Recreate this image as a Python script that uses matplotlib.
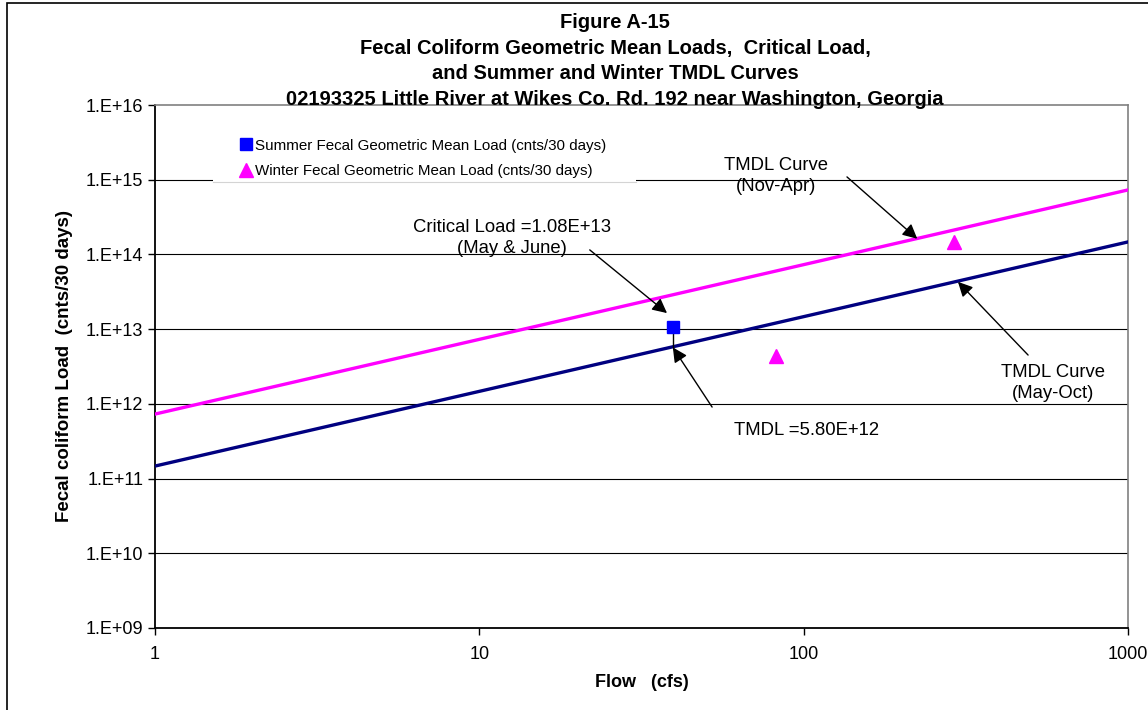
import math
import matplotlib
matplotlib.use("Agg")
import matplotlib.pyplot as plt
from matplotlib.ticker import FixedLocator, FuncFormatter, NullLocator
from matplotlib.patches import Rectangle

plt.rcParams['font.family'] = ['Liberation Sans', 'DejaVu Sans']

# TMDL curves (load vs flow), endpoints of each straight log-log line
curve_flow = [1, 1000]
summer_tmdl = [1.47e11, 1.47e14]
winter_tmdl = [7.3e11, 7.3e14]

# geometric mean loads
summer_flow = [39.5]
summer_load = [1.08e13]
winter_flow = [82, 291]
winter_load = [4.36e12, 1.47e14]

critical_flow = 39.5
critical_load = 1.08e13
tmdl_at_critical = 5.80e12

y_ticks = [1e9, 1e10, 1e11, 1e12, 1e13, 1e14, 1e15, 1e16]
x_ticks = [1, 10, 100, 1000]

W, H = 1148, 710
fig = plt.figure(figsize=(W / 100, H / 100), dpi=100)
ax = fig.add_axes([155 / W, 1 - 628 / H, (1128 - 155) / W, (628 - 105) / H])

# outer frame around the figure
fig.patches.append(Rectangle((7 / W, -0.1), 1.2, 1 - 3 / H + 0.1,
                             transform=fig.transFigure, fill=False,
                             edgecolor='black', linewidth=1.2))

ax.set_xscale('log')
ax.set_yscale('log')
ax.set_xlim(1, 1000)
ax.set_ylim(1e9, 1e16)

for y in y_ticks[1:-1]:
    ax.axhline(y, color='black', linewidth=0.8, zorder=1)

# white block behind the legend hides part of the 1E+15 gridline
ax.add_patch(Rectangle((213 / W, 1 - 182 / H), (636 - 213) / W, 52 / H,
                       transform=fig.transFigure, facecolor='white',
                       edgecolor='none', zorder=2))
ax.plot([213 / W, 636 / W], [1 - 182 / H, 1 - 182 / H], transform=fig.transFigure,
        color='#d4d4d4', linewidth=0.8, zorder=2)

ax.plot(curve_flow, winter_tmdl, color='#ff00ff', linewidth=2.4, zorder=3)
ax.plot(curve_flow, summer_tmdl, color='#000080', linewidth=2.4, zorder=3)

ax.plot([critical_flow, critical_flow], [tmdl_at_critical, critical_load],
        color='black', linewidth=1.0, zorder=4)

ax.plot(summer_flow, summer_load, linestyle='none', marker='s', markersize=9,
        color='#0000ff', label='Summer Fecal Geometric Mean Load (cnts/30 days)', zorder=5)
ax.plot(winter_flow, winter_load, linestyle='none', marker='^', markersize=10,
        color='#ff00ff', label='Winter Fecal Geometric Mean Load (cnts/30 days)', zorder=5)

ax.yaxis.set_major_locator(FixedLocator(y_ticks))
ax.yaxis.set_minor_locator(NullLocator())
ax.yaxis.set_major_formatter(FuncFormatter(lambda v, p: '1.E+%02d' % round(math.log10(v))))
ax.xaxis.set_major_locator(FixedLocator(x_ticks))
ax.xaxis.set_minor_locator(NullLocator())
ax.xaxis.set_major_formatter(FuncFormatter(lambda v, p: '%d' % v))
ax.tick_params(axis='both', labelsize=13, length=5, width=1, color='black')
ax.tick_params(axis='x', pad=8)

ax.spines['left'].set_color('black')
ax.spines['bottom'].set_color('black')
ax.spines['left'].set_linewidth(1.3)
ax.spines['bottom'].set_linewidth(1.3)
ax.spines['top'].set_color('#808080')
ax.spines['right'].set_color('#808080')
ax.spines['top'].set_linewidth(1.2)
ax.spines['right'].set_linewidth(1.2)

ax.set_xlabel('Flow   (cfs)', fontsize=13, fontweight='bold', labelpad=8)
ax.set_ylabel('Fecal coliform Load  (cnts/30 days)', fontsize=13.5, fontweight='bold', labelpad=9)

fig.text(615 / W, 1 - 13 / H,
         'Figure A-15\nFecal Coliform Geometric Mean Loads,  Critical Load,\n'
         'and Summer and Winter TMDL Curves\n'
         '02193325 Little River at Wikes Co. Rd. 192 near Washington, Georgia',
         ha='center', va='top', fontsize=14.5, fontweight='bold', linespacing=1.44)

leg = ax.legend(loc='upper left', bbox_to_anchor=(231 / W, 1 - 131 / H),
                bbox_transform=fig.transFigure, frameon=False,
                fontsize=10.9, handletextpad=0.1, handlelength=1.0,
                borderpad=0.5, labelspacing=0.78, borderaxespad=0)
leg.set_zorder(6)

arrow = dict(arrowstyle='-|>', color='black', linewidth=1.0, mutation_scale=22,
             shrinkA=0, shrinkB=0)
ann = dict(fontsize=13.3, ha='center', va='center', linespacing=1.3)

ax.annotate('', xy=(224, 1.62e14), xytext=(136, 1.09e15), arrowprops=arrow, zorder=7)
ax.text(82, 1.12e15, 'TMDL Curve\n(Nov-Apr)', **ann)

ax.annotate('', xy=(37.9, 1.64e13), xytext=(21.9, 1.15e14), arrowprops=arrow, zorder=7)
ax.text(12.6, 1.66e14, 'Critical Load =1.08E+13\n(May & June)', **ann)

ax.annotate('', xy=(39.5, 5.7e12), xytext=(52.2, 9.06e11), arrowprops=arrow, zorder=7)
ax.text(102, 4.46e11, 'TMDL =5.80E+12', **ann)

ax.annotate('', xy=(299, 4.3e13), xytext=(492, 4.5e12), arrowprops=arrow, zorder=7)
ax.text(588, 1.9e12, 'TMDL Curve\n(May-Oct)', **ann)

fig.savefig('out.png', dpi=100)
